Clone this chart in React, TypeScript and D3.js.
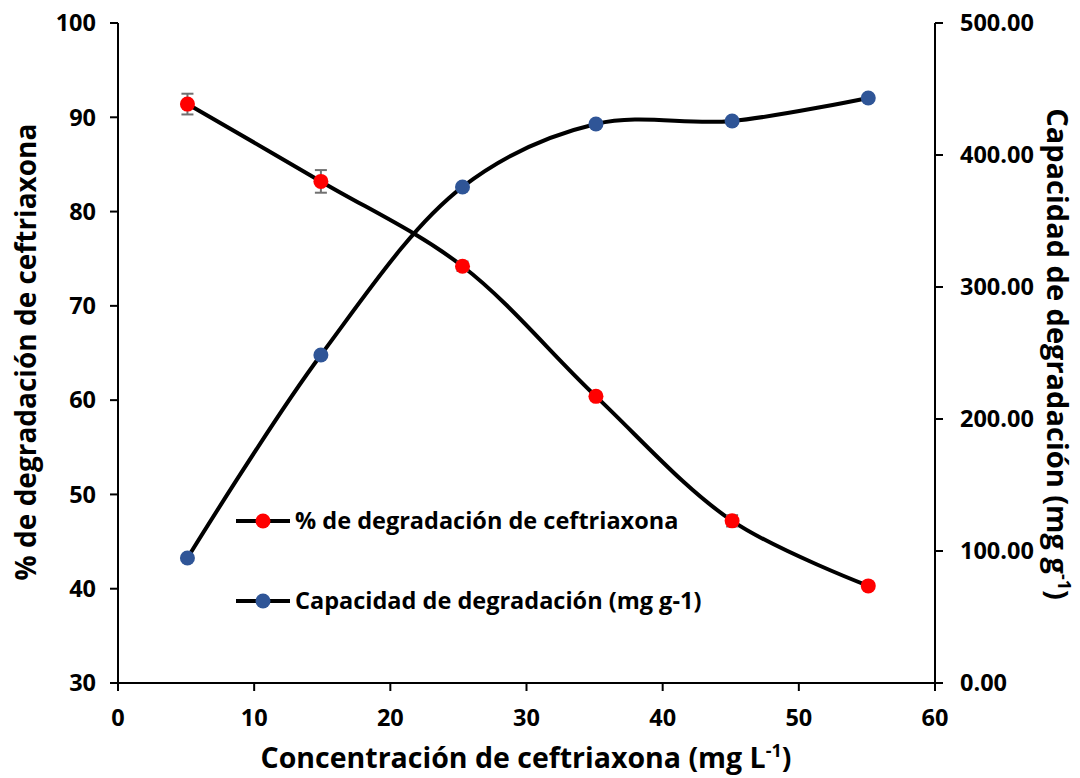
import React from "react";
import * as d3 from "d3";

const concentration = [5.1, 14.9, 25.3, 35.1, 45.1, 55.1];
const degradation = [91.4, 83.2, 74.2, 60.4, 47.2, 40.3];
const degradationErr = [1.1, 1.2, 0.5, 0.4, 0.6, 0.3];
const capacity = [94.7, 248.5, 375.8, 423.5, 425.8, 443.2];
const xTicks = [0, 10, 20, 30, 40, 50, 60];
const yLeftTicks = [30, 40, 50, 60, 70, 80, 90, 100];
const yRightTicks = [0, 100, 200, 300, 400, 500];
const seriesNames = ["% de degradación de ceftriaxona", "Capacidad de degradación (mg g-1)"];

const W = 1080, H = 778;
const L = 118, R = 935, T = 23, B = 683;
const FONT = "'Open Sans', 'Noto Sans', sans-serif";

export default function App() {
  const x = d3.scaleLinear().domain([0, 60]).range([L, R]);
  const yL = d3.scaleLinear().domain([30, 100]).range([B, T]);
  const yR = d3.scaleLinear().domain([0, 500]).range([B, T]);
  const curve = d3.curveCatmullRom.alpha(0.5);
  const lineRed = d3.line<number>().x((_, i) => x(concentration[i])).y((d) => yL(d)).curve(curve);
  const lineBlue = d3.line<number>().x((_, i) => x(concentration[i])).y((d) => yR(d)).curve(curve);
  const red = "#ff0000";
  const blue = "#2f5597";
  const legY = [521, 601];
  const legColors = [red, blue];
  return (
    <svg width={W} height={H} style={{ display: "block", position: "absolute", left: 0, top: 0 }} fontFamily={FONT}>
      <rect width={W} height={H} fill="#fff" />
      {/* axes */}
      <line x1={L} x2={L} y1={T} y2={B + 8} stroke="#000" strokeWidth={2} />
      <line x1={L} x2={R} y1={B} y2={B} stroke="#000" strokeWidth={2} />
      <line x1={R} x2={R} y1={T} y2={B + 8} stroke="#000" strokeWidth={2} />
      {yLeftTicks.map((t) => (
        <g key={"yl" + t}>
          <line x1={L - 8} x2={L} y1={yL(t)} y2={yL(t)} stroke="#000" strokeWidth={2} />
          <text x={L - 22} y={yL(t)} dy="0.35em" textAnchor="end" fontSize={23.5} fontWeight="bold">{t}</text>
        </g>
      ))}
      {yRightTicks.map((t) => (
        <g key={"yr" + t}>
          <line x1={R} x2={R + 8} y1={yR(t)} y2={yR(t)} stroke="#000" strokeWidth={2} />
          <text x={R + 25} y={yR(t)} dy="0.35em" textAnchor="start" fontSize={23.5} fontWeight="bold">{t.toFixed(2)}</text>
        </g>
      ))}
      {xTicks.map((t) => (
        <g key={"x" + t}>
          <line x1={x(t)} x2={x(t)} y1={B} y2={B + 8} stroke="#000" strokeWidth={2} />
          <text x={x(t)} y={718} dy="0.35em" textAnchor="middle" fontSize={23.5} fontWeight="bold">{t}</text>
        </g>
      ))}
      {/* titles */}
      <text x={526} y={768} textAnchor="middle" fontSize={28.5} fontWeight="bold">
        Concentración de ceftriaxona (mg L<tspan dy={-11} fontSize={18}>-1</tspan><tspan dy={11}>)</tspan>
      </text>
      <text transform={`translate(36,352) rotate(-90)`} textAnchor="middle" fontSize={28} fontWeight="bold">
        % de degradación de ceftriaxona
      </text>
      <text transform={`translate(1047,354) rotate(90)`} textAnchor="middle" fontSize={29} fontWeight="bold">
        Capacidad de degradación (mg g<tspan dy={-11} fontSize={18}>-1</tspan><tspan dy={11}>)</tspan>
      </text>
      {/* lines */}
      <path d={lineRed(degradation) || ""} fill="none" stroke="#000" strokeWidth={4} />
      <path d={lineBlue(capacity) || ""} fill="none" stroke="#000" strokeWidth={4} />
      {/* error bars */}
      {degradation.map((d, i) => (
        <g key={"e" + i} stroke="#707070" strokeWidth={2}>
          <line x1={x(concentration[i])} x2={x(concentration[i])} y1={yL(d + degradationErr[i])} y2={yL(d - degradationErr[i])} />
          <line x1={x(concentration[i]) - 6} x2={x(concentration[i]) + 6} y1={yL(d + degradationErr[i])} y2={yL(d + degradationErr[i])} />
          <line x1={x(concentration[i]) - 6} x2={x(concentration[i]) + 6} y1={yL(d - degradationErr[i])} y2={yL(d - degradationErr[i])} />
        </g>
      ))}
      {degradation.map((d, i) => (
        <circle key={"r" + i} cx={x(concentration[i])} cy={yL(d)} r={7.5} fill={red} />
      ))}
      {capacity.map((d, i) => (
        <circle key={"b" + i} cx={x(concentration[i])} cy={yR(d)} r={7.5} fill={blue} />
      ))}
      {/* legend */}
      {seriesNames.map((n, i) => (
        <g key={"l" + i}>
          <line x1={236} x2={290} y1={legY[i]} y2={legY[i]} stroke="#000" strokeWidth={4} />
          <circle cx={263} cy={legY[i]} r={7.5} fill={legColors[i]} />
          <text x={295} y={legY[i]} dy="0.35em" fontSize={23.5} fontWeight="bold">{n}</text>
        </g>
      ))}
    </svg>
  );
}
